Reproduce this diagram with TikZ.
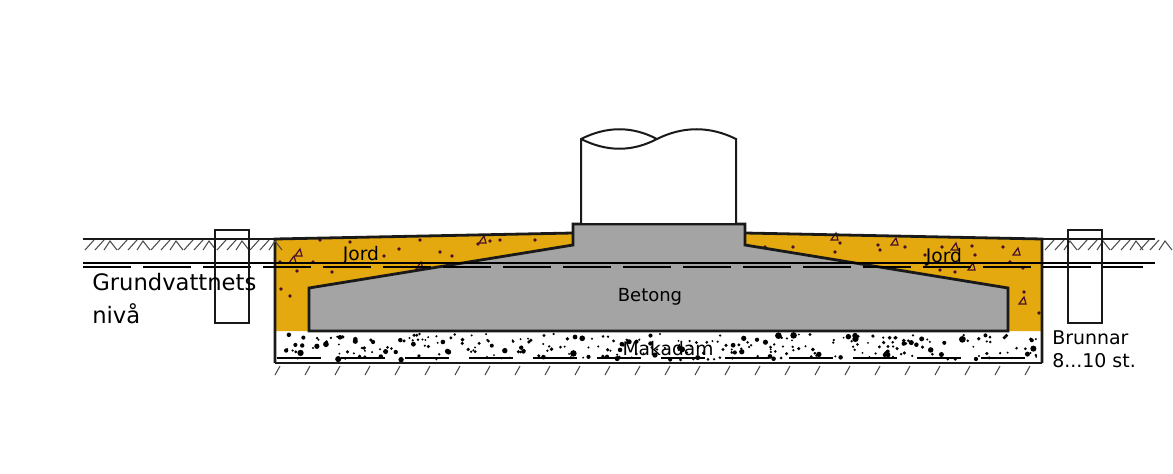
\documentclass[tikz,border=0pt]{standalone}
\usepackage{xcolor}
\usepackage{fontspec}
\setmainfont{DejaVu Sans}
\definecolor{jordcolor}{HTML}{E3A90F}
\definecolor{betongcolor}{HTML}{A4A4A4}
\definecolor{speckcolor}{HTML}{4A1028}
\begin{document}
\begin{tikzpicture}[x=0.75pt, y=-0.75pt,
  heavy/.style={draw=black!90, line width=2.1pt, line join=miter},
  medium/.style={draw=black!90, line width=1.5pt},
  thinline/.style={draw=black, line width=1pt},
  hatchline/.style={draw=black!70, line width=0.8pt},
  smalllabel/.style={font=\fontsize{14}{16}\selectfont, inner sep=0},
  biglabel/.style={font=\fontsize{17}{25}\selectfont, inner sep=0, align=left},
  speck/.style={fill=speckcolor, draw=none},
  stone/.style={draw=speckcolor, line width=0.9pt, fill=jordcolor}]
  \useasboundingbox (0,0) rectangle (1173,474);
  \pgfmathsetseed{90210}

  % Soil
  \fill[jordcolor] (275,239) -- (573,233) -- (745,233) -- (1042,239)
    -- (1042,331) -- (275,331) -- cycle;
  \foreach \x/\y in {320/240, 350/242, 280/262, 297/271, 313/262, 281/289,
    290/296, 332/272, 384/256, 399/249, 440/252, 452/256, 420/240, 478/244,
    490/241, 500/240, 535/240, 765/247, 793/247, 835/252, 840/243, 880/250,
    878/245, 905/247, 925/255, 942/247, 972/246, 975/255, 940/270, 955/272,
    1010/262, 1024/292, 1039/313, 1003/247, 1023/268} {
    \fill[speck] (\x,\y) circle (1.8);
  }
  \foreach \x/\y in {299/253, 293/260, 483/240, 420/266, 835/237, 895/242,
    955/247, 1017/252, 972/267, 1023/301} {
    \draw[stone] (\x-4,\y+3) -- (\x+1,\y-4) -- (\x+3,\y+3) -- cycle;
  }

  % Concrete
  \draw[heavy, fill=betongcolor] (573,224) -- (745,224) -- (745,245) -- (1008,288)
    -- (1008,331) -- (309,331) -- (309,288) -- (573,245) -- cycle;

  % Column
  \draw[medium, fill=white] (581,224) -- (581,139)
    .. controls (607,126) and (632,126) .. (657,139)
    .. controls (683,126) and (710,126) .. (736,139) -- (736,224);
  \draw[medium] (581,139) .. controls (607,152) and (632,152) .. (657,139);
  \draw[heavy] (573,224) -- (745,224);

  % Macadam
  \foreach \i in {1,...,300} {
    \pgfmathsetmacro{\dotx}{rnd*760+278}
    \pgfmathsetmacro{\doty}{rnd*26+334}
    \pgfmathsetmacro{\dotr}{1+rnd*rnd*2.4}
    \fill[black] (\dotx,\doty) circle (\dotr);
  }
  \draw[black, line width=1.1pt, dash pattern=on 33pt off 15pt] (277,358) -- (1040,358);

  % Soil outline
  \draw[heavy] (573,233) -- (275,239) -- (275,363);
  \draw[heavy] (745,233) -- (1042,239) -- (1042,363);
  \draw[heavy] (275,363) -- (1042,363);
  \foreach \x in {275,305,...,1030} {
    \draw[hatchline] (\x+5,366) -- (\x,375);
  }

  % Ground surface
  \foreach \x in {85,118,...,250, 1045,1078,1111,1140} {
    \draw[hatchline] (\x,250) -- (\x+9,240);
    \draw[hatchline] (\x+10,250) -- (\x+19,240);
    \draw[hatchline] (\x+19,250) -- (\x+25,241) -- (\x+32,250);
  }
  \draw[heavy] (83,239) -- (275,239);
  \draw[heavy] (1042,239) -- (1155,239);

  % Water level
  \draw[thinline] (83,263) -- (1155,263);
  \draw[thinline, dash pattern=on 36pt off 9pt] (83,267) -- (1143,267);

  % Wells
  \draw[medium] (215,230) rectangle (249,323);
  \draw[medium] (1068,230) rectangle (1102,323);

  % Labels
  \node[smalllabel] (jordleft) at (361,255) {Jord};
  \node[smalllabel] (jordright) at (944,257) {Jord};
  \node[smalllabel, font=\fontsize{13.5}{16}\selectfont] (betong) at (650,297) {Betong};
  \node[smalllabel] (makadam) at (668,349) {Makadam};
  \node[biglabel, anchor=north west] (vatten) at (92,273) {Grundvattnets\\nivå};
  \node[smalllabel, anchor=north west, align=left,
    font=\fontsize{14.2}{17.5}\selectfont] (brunnar) at (1052,330) {Brunnar\\8...10 st.};
\end{tikzpicture}
\end{document}
